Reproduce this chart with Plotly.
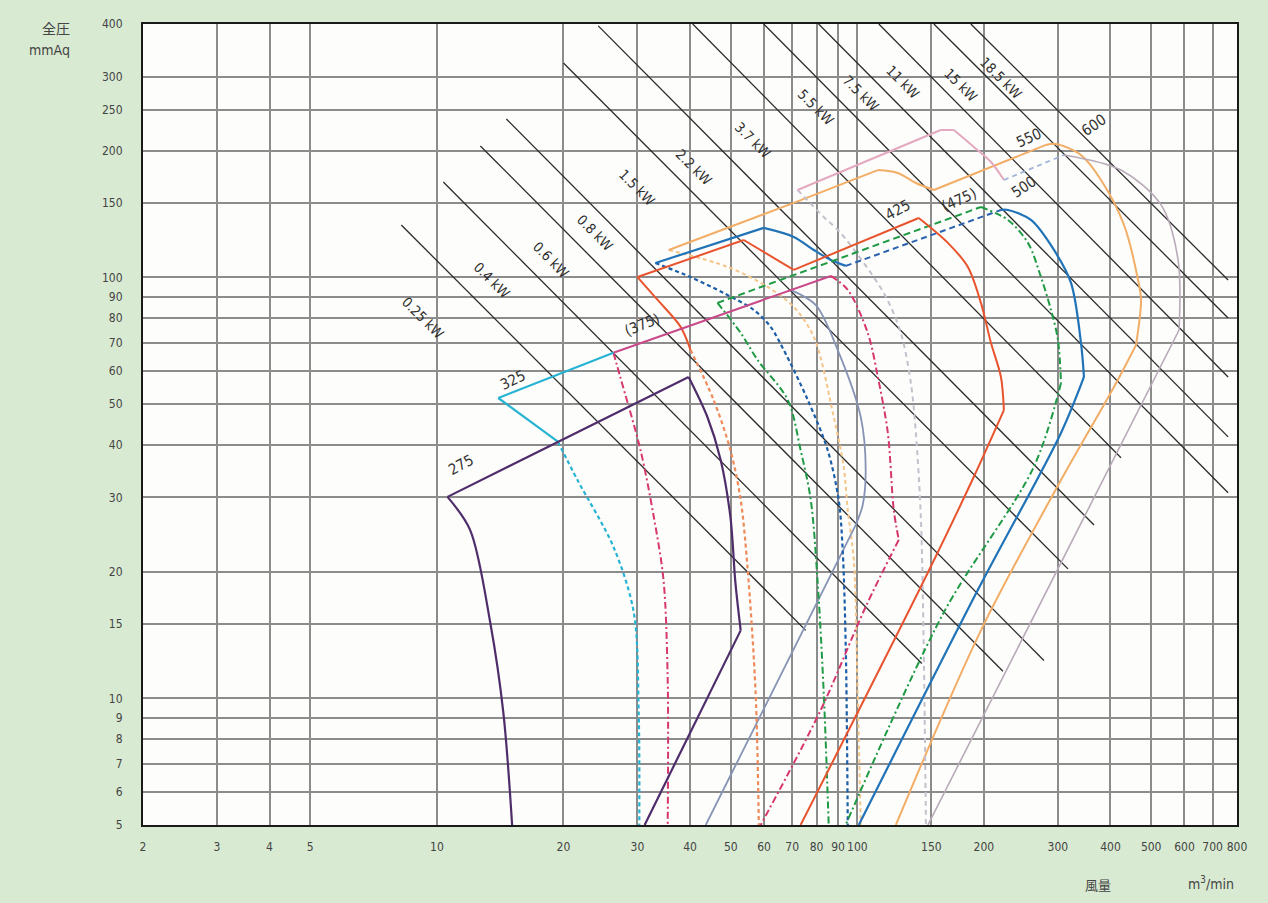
import numpy as np
import plotly.graph_objects as go

# ---------------- axes ----------------
x_ticks = [2, 3, 4, 5, 10, 20, 30, 40, 50, 60, 70, 80, 90, 100, 150, 200, 300, 400, 500, 600, 700, 800]
y_ticks = [5, 6, 7, 8, 9, 10, 15, 20, 30, 40, 50, 60, 70, 80, 90, 100, 150, 200, 250, 300, 400]

# ---------------- power lines (kW) ----------------
kw_labels = ["0.25 kW", "0.4 kW", "0.6 kW", "0.8 kW", "1.5 kW", "2.2 kW",
             "3.7 kW", "5.5 kW", "7.5 kW", "11 kW", "15 kW", "18.5 kW"]
kw_x0 = [8.23, 10.36, 12.69, 14.63, 20.0, 24.2, 40.6, 59.9, 80.9, 112.5, 152.1, 186.2]
kw_y0 = [133.2, 168.5, 205.3, 237.9, 323.1, 396, 400, 400, 400, 400, 400, 400]
kw_x1 = [75.4, 142.4, 222.0, 277.9, 317.0, 365.6, 423.8, 762, 762, 762, 762, 762]
kw_y1 = [14.5, 12.1, 11.6, 12.3, 20.3, 25.8, 37.3, 30.8, 41.8, 58.0, 80.1, 98.6]
kw_lx = [9.28, 13.5, 18.7, 23.8, 30.0, 40.8, 56.4, 79.6, 101.9, 128.3, 176.3, 219.6]
kw_ly = [80.1, 98.6, 110.0, 127.5, 163.2, 183.0, 212.1, 254.1, 274.2, 291.2, 286.5, 297.6]

# ---------------- fan curves ----------------
f275_x = [15.1, 14.4, 13.4, 12.0, 10.6, 39.7, 44.0, 47.3, 49.9, 51.3, 52.8, 31.2]
f275_y = [5, 9.2, 15.1, 25.1, 30.1, 58.0, 46.6, 36.9, 27.0, 18.8, 14.5, 5]

c325_top_x = [19.4, 14.0, 26.3]
c325_top_y = [40.7, 51.7, 66.2]
c325_curve_x = [19.4, 21.6, 26.3, 29.4, 30.2, 30.3]
c325_curve_y = [40.7, 33.0, 22.9, 16.0, 9.24, 5]

s325_x = [69.4, 79.6, 89.8, 101.9, 104.7, 103.0, 99.1, 43.6]
s325_y = [93.4, 86.0, 67.3, 46.6, 34.9, 28.8, 25.8, 5]

m375_top_x = [26.3, 86.5]
m375_top_y = [66.2, 100.8]
m375_left_x = [26.3, 27.3, 30.5, 32.8, 34.6, 35.4, 35.4]
m375_left_y = [66.2, 58.0, 38.9, 27.0, 19.1, 11.1, 5]
m375_right_x = [86.5, 94.9, 105.9, 111.9, 118.2, 122.1, 125.5, 104.7, 81.9, 58.9]
m375_right_y = [100.8, 93.4, 73.8, 58.0, 42.7, 28.0, 23.8, 16.5, 9.39, 5]

r425_x = [40.1, 38.0, 33.5, 30.0, 53.7, 70.6, 140.0, 164.2, 183.2, 196.8, 207.9, 219.6, 223.2, 189.3, 147.2, 73.3]
r425_y = [67.3, 76.3, 88.4, 100.2, 122.7, 104.2, 138.4, 120.8, 105.9, 87.0, 69.9, 58.0, 48.4, 33.6, 19.9, 5]
r425_left_x = [40.1, 45.5, 49.9, 52.8, 54.8, 57.3, 58.3]
r425_left_y = [67.3, 51.2, 38.9, 29.6, 20.5, 10.3, 5]

g475_top_x = [46.5, 196.8]
g475_top_y = [87.0, 147.0]
g475_right_x = [196.8, 228.2, 254.6, 273.4, 288.8, 300.1, 305.1, 263.0, 160.6, 93.8]
g475_right_y = [147.0, 136.9, 120.8, 100.2, 83.7, 71.0, 56.1, 35.5, 16.0, 5]
g475_left_x = [46.5, 52.8, 57.9, 68.3, 73.3, 77.5, 80.5, 83.2, 85.5]
g475_left_y = [87.0, 73.8, 63.7, 51.2, 38.9, 29.6, 18.8, 10.3, 5]

b500_hump_x = [33.1, 59.9, 70.6, 78.8, 86.5, 93.9]
b500_hump_y = [108.2, 131.1, 124.8, 116.2, 110.0, 106.5]
b500_top_x = [93.9, 219.6]
b500_top_y = [106.5, 144.6]
b500_right_x = [219.6, 228.2, 258.8, 293.6, 322.3, 340.4, 346.0, 305.1, 193.6, 100.8]
b500_right_y = [144.6, 144.6, 136.9, 116.2, 97.0, 69.9, 58.0, 42.7, 18.1, 5]
b500_left_x = [33.1, 40.1, 48.1, 56.7, 62.2, 66.8, 76.2, 85.0, 90.3, 92.3, 93.9, 94.9]
b500_left_y = [108.2, 100.2, 91.8, 83.7, 76.3, 67.3, 51.2, 38.9, 29.6, 22.5, 13.0, 5]

p550_top_x = [72.1, 157.9, 169.7, 189.3, 207.9, 223.2]
p550_top_y = [161.3, 224.0, 224.0, 204.2, 188.0, 170.4]
p550_mid_x = [223.2, 310.1]
p550_mid_y = [170.4, 195.4]
p550_right_x = [310.1, 423.8, 527.8, 579.4, 582.6, 147.2]
p550_right_y = [195.4, 179.9, 148.7, 110.0, 75.0, 5]
p550_left_x = [72.1, 83.2, 91.3, 115.6, 126.9, 134.1, 137.8, 141.6, 143.9, 145.6]
p550_left_y = [161.3, 139.2, 127.5, 91.8, 73.8, 56.1, 42.7, 27.0, 13.0, 5]

t600_x = [35.6, 70.6, 111.9, 124.8, 137.8, 152.1, 280.9, 296.8, 340.4, 379.9, 430.9, 465.3, 473.0, 460.2, 407.8, 305.1, 196.8, 123.5]
t600_y = [116.2, 150.3, 179.9, 177.0, 167.6, 161.3, 206.4, 207.5, 195.4, 170.4, 133.2, 98.6, 88.4, 69.1, 54.9, 33.0, 14.5, 5]
t600_left_x = [35.6, 49.2, 61.2, 70.6, 78.8, 87.9, 92.8, 94.9, 98.1, 100.2, 101.9]
t600_left_y = [116.2, 105.9, 94.9, 85.1, 72.2, 46.6, 35.5, 28.0, 21.3, 10.3, 5]

size_labels = ["275", "325", "(375)", "425", "(475)", "500", "550", "600"]
size_lx = [11.4, 15.2, 30.7, 124.8, 174.4, 249.0, 255.9, 365.6]
size_ly = [35.9, 57.1, 77.1, 144.6, 152.8, 164.0, 214.4, 230.2]
size_angle = [-28, -26, -22, -28, -24, -34, -24, -34]

# ---------------- figure ----------------
fig = go.Figure()

def add(x, y, color, width=2.0, dash="solid", corners=()):
    """Draw a path; pieces between sharp corners are drawn smooth."""
    cuts = sorted(set([0, len(x) - 1] + list(corners)))
    for a, b in zip(cuts[:-1], cuts[1:]):
        xs, ys = x[a:b + 1], y[a:b + 1]
        fig.add_trace(go.Scatter(x=xs, y=ys, mode="lines",
                                 line=dict(color=color, width=width, dash=dash,
                                           shape="spline" if len(xs) > 2 else "linear",
                                           smoothing=0.9),
                                 hoverinfo="skip", showlegend=False))

# power lines
for i in range(len(kw_labels)):
    add([kw_x0[i], kw_x1[i]], [kw_y0[i], kw_y1[i]], "#2a2a2a", 1.3)

DD = "7px,3px,2px,3px"
# fan envelopes
add(t600_left_x, t600_left_y, "#f4c58a", 2.0, "4px,3px")
add(t600_x, t600_y, "#f2ad66", 2.0, corners=(2, 5, 6, 13))
add(p550_left_x, p550_left_y, "#c4c0cc", 2.0, "5px,4px")
add(p550_top_x, p550_top_y, "#e4a9c0", 2.0, corners=(1, 2))
add(p550_mid_x, p550_mid_y, "#9fb4d8", 1.8, "5px,4px")
add(p550_right_x, p550_right_y, "#b8aab8", 1.6, corners=(4,))
add(s325_x, s325_y, "#8594b4", 1.8, corners=(6,))
add(b500_left_x, b500_left_y, "#1d5ea8", 2.2, "4px,3px")
add(b500_hump_x, b500_hump_y, "#2173b8", 2.2, corners=(1,))
add(b500_top_x, b500_top_y, "#2a62b0", 2.0, "6px,4px")
add(b500_right_x, b500_right_y, "#2173b8", 2.2, corners=(6,))
add(g475_left_x, g475_left_y, "#1f9a45", 2.0, DD)
add(g475_top_x, g475_top_y, "#1f9a45", 2.0, "7px,4px")
add(g475_right_x, g475_right_y, "#1f9a45", 2.0, DD, corners=(6,))
add(r425_left_x, r425_left_y, "#ef8a5a", 2.2, "4px,3px")
add(r425_x, r425_y, "#e8542e", 2.0, corners=(3, 4, 5, 6, 12))
add(m375_left_x, m375_left_y, "#d7376f", 2.0, DD)
add(m375_top_x, m375_top_y, "#c94a8a", 2.0)
add(m375_right_x, m375_right_y, "#d7376f", 2.0, DD, corners=(6,))
add(c325_curve_x, c325_curve_y, "#27b3d3", 2.2, "4px,3px")
add(c325_top_x, c325_top_y, "#27b3d3", 2.2, corners=(1,))
add(f275_x, f275_y, "#4f2d6b", 2.2, corners=(4, 5, 10))

FONT = "DejaVu Sans Condensed, Liberation Sans Narrow, Arial Narrow, Liberation Sans, Arial, sans-serif"
ann = []
for i, t in enumerate(kw_labels):
    ann.append(dict(x=np.log10(kw_lx[i]), y=np.log10(kw_ly[i]), xref="x", yref="y",
                    text=t, showarrow=False, textangle=45,
                    font=dict(family=FONT, size=14, color="#2e2e2e")))
for i, t in enumerate(size_labels):
    ann.append(dict(x=np.log10(size_lx[i]), y=np.log10(size_ly[i]), xref="x", yref="y",
                    text=t, showarrow=False, textangle=size_angle[i],
                    font=dict(family=FONT, size=15, color="#333333")))

ann.append(dict(x=72, y=903 - 28, xref="paper", yref="paper", text="全圧", showarrow=False,
                xanchor="right", yanchor="middle",
                font=dict(family="Noto Sans CJK JP", size=14, color="#444")))
ann.append(dict(x=72, y=903 - 50, xref="paper", yref="paper", text="mmAq", showarrow=False,
                xanchor="right", yanchor="middle", font=dict(family=FONT, size=14, color="#444")))
ann.append(dict(x=1098, y=903 - 884, xref="paper", yref="paper", text="風量", showarrow=False,
                xanchor="center", yanchor="middle",
                font=dict(family="Noto Sans CJK JP", size=13, color="#444")))
ann.append(dict(x=1211, y=903 - 883, xref="paper", yref="paper", text="m<sup>3</sup>/min", showarrow=False,
                xanchor="center", yanchor="middle", font=dict(family=FONT, size=14, color="#444")))

# convert paper pixel annotations to paper fractions
L, R, T, B = 143, 31, 24, 78
W, H = 1268, 903
pw, ph = W - L - R, H - T - B
for a in ann:
    if a["xref"] == "paper":
        a["x"] = (a["x"] - L) / pw
        a["y"] = (a["y"] - B) / ph

fig.update_layout(
    width=W, height=H,
    margin=dict(l=L, r=R, t=T, b=B),
    paper_bgcolor="#d9ead2",
    plot_bgcolor="#fdfdfb",
    showlegend=False,
    hovermode=False,
    annotations=ann,
    font=dict(family=FONT, color="#444"),
)
fig.update_xaxes(type="log", range=[np.log10(2), np.log10(800)],
                 tickvals=x_ticks, ticktext=[str(v) for v in x_ticks],
                 showgrid=True, gridcolor="#8c8c8c", gridwidth=1.6,
                 showline=True, linecolor="#1a1a1a", linewidth=2, mirror=True,
                 ticks="", tickangle=0, tickfont=dict(family=FONT, size=12, color="#444"),
                 ticklabelstandoff=10, zeroline=False)
fig.update_yaxes(type="log", range=[np.log10(5), np.log10(400)],
                 tickvals=y_ticks, ticktext=[str(v) for v in y_ticks],
                 showgrid=True, gridcolor="#8c8c8c", gridwidth=1.6,
                 showline=True, linecolor="#1a1a1a", linewidth=2, mirror=True,
                 ticks="", tickfont=dict(family=FONT, size=12, color="#444"),
                 ticklabelstandoff=16, zeroline=False)

fig.write_html("out.html", config={"displayModeBar": False},
               post_script="document.body.style.margin='0';document.body.style.background='#d9ead2';")
